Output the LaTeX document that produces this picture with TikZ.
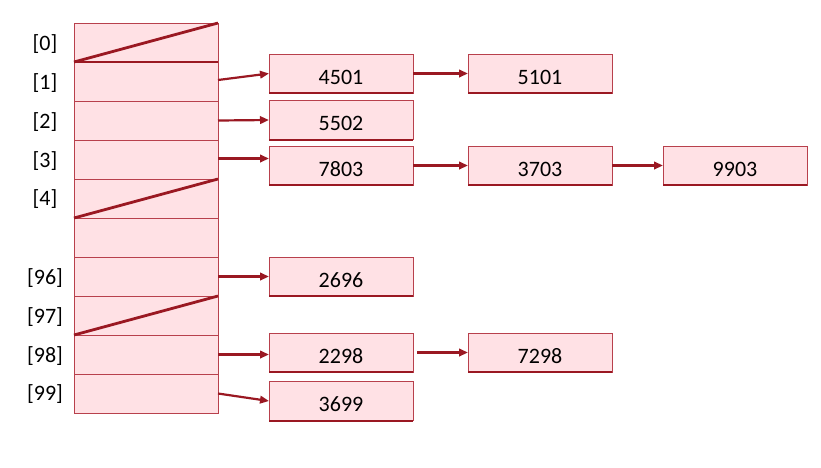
\documentclass[tikz,border=0pt]{standalone}
\usepackage{fontspec}
\setmainfont{Carlito}
\usetikzlibrary{arrows.meta}
\definecolor{cellfill}{HTML}{FFE1E5}
\definecolor{cellline}{HTML}{B8404C}
\definecolor{darkred}{HTML}{9A1822}
\begin{document}
\begin{tikzpicture}[x=1pt,y=-1pt,
  cell/.style={draw=cellline,fill=cellfill,line width=0.9pt,minimum width=144pt,minimum height=39pt,inner sep=0pt,outer sep=0pt},
  item/.style={draw=cellline,fill=cellfill,line width=0.9pt,minimum width=144pt,minimum height=39pt,inner sep=0pt,outer sep=0pt,font=\fontsize{22}{26}\selectfont,text height=21pt,text depth=0pt},
  idx/.style={font=\fontsize{22}{26}\selectfont,inner sep=0pt},
  link/.style={draw=darkred,line width=2.2pt,-{Triangle[length=9pt,width=7.5pt]}},
  slash/.style={draw=darkred,line width=2.8pt},
  base/.style={draw=darkred,line width=2pt}]
\useasboundingbox (0,0) rectangle (821,467);
% table cells
\foreach \i/\y in {0/42.5,1/81.5,2/120.5,3/159.5,4/198.5,5/237.5,6/276.5,7/315.5,8/354.5,9/393.5}
  \node[cell] (c\i) at (146,\y) {};
% indices
\node[idx] (l0) at (45,44) {[0]};
\node[idx] (l1) at (45,83) {[1]};
\node[idx] (l2) at (45,122) {[2]};
\node[idx] (l3) at (45,161) {[3]};
\node[idx] (l4) at (45,199) {[4]};
\node[idx] (l96) at (45,278) {[96]};
\node[idx] (l97) at (45,317) {[97]};
\node[idx] (l98) at (45,356) {[98]};
\node[idx] (l99) at (45,394) {[99]};
% null slashes
\draw[slash] (c0.south west) -- (c0.north east);
\draw[slash] (c0.south west) -- (c0.south east);
\draw[slash] (c4.south west) -- (c4.north east);
\draw[slash] (c7.south west) -- (c7.north east);
% list items
\node[item] (a1) at (341,73.5) {4501};
\node[item] (b1) at (540,73.5) {5101};
\node[item] (a2) at (341,120) {5502};
\node[item] (a3) at (341,165.5) {7803};
\node[item] (b3) at (540,165.5) {3703};
\node[item] (d3) at (735,165.5) {9903};
\node[item] (a6) at (341,276.5) {2696};
\node[item] (a8) at (341,352.5) {2298};
\node[item] (b8) at (540,352.5) {7298};
\node[item] (a9) at (341,401) {3699};
\foreach \n in {a1,b1,a2,a3,b3,d3,a6,a8,b8,a9}
  \draw[base] (\n.south west) -- (\n.south east);
% link start points
\coordinate (s1) at ([yshift=1.5pt]c1.east);
\coordinate (s3) at ([yshift=1pt]c3.east);
\coordinate (s8) at ([xshift=4pt]a8.east);
% links
\draw[link] (s1) -- (a1.west);
\draw[link] (c2.east) -- (a2.west);
\draw[link] (s3) -- (a3.west |- s3);
\draw[link] (c6.east) -- (a6.west);
\draw[link] (c8.east) -- (a8.west |- c8.east);
\draw[link] (c9.east) -- (a9.west);
\draw[link] (a1.east) -- (b1.west);
\draw[link] (a3.east) -- (b3.west);
\draw[link] (b3.east) -- (d3.west);
\draw[link] (s8) -- (b8.west);
\end{tikzpicture}
\end{document}
